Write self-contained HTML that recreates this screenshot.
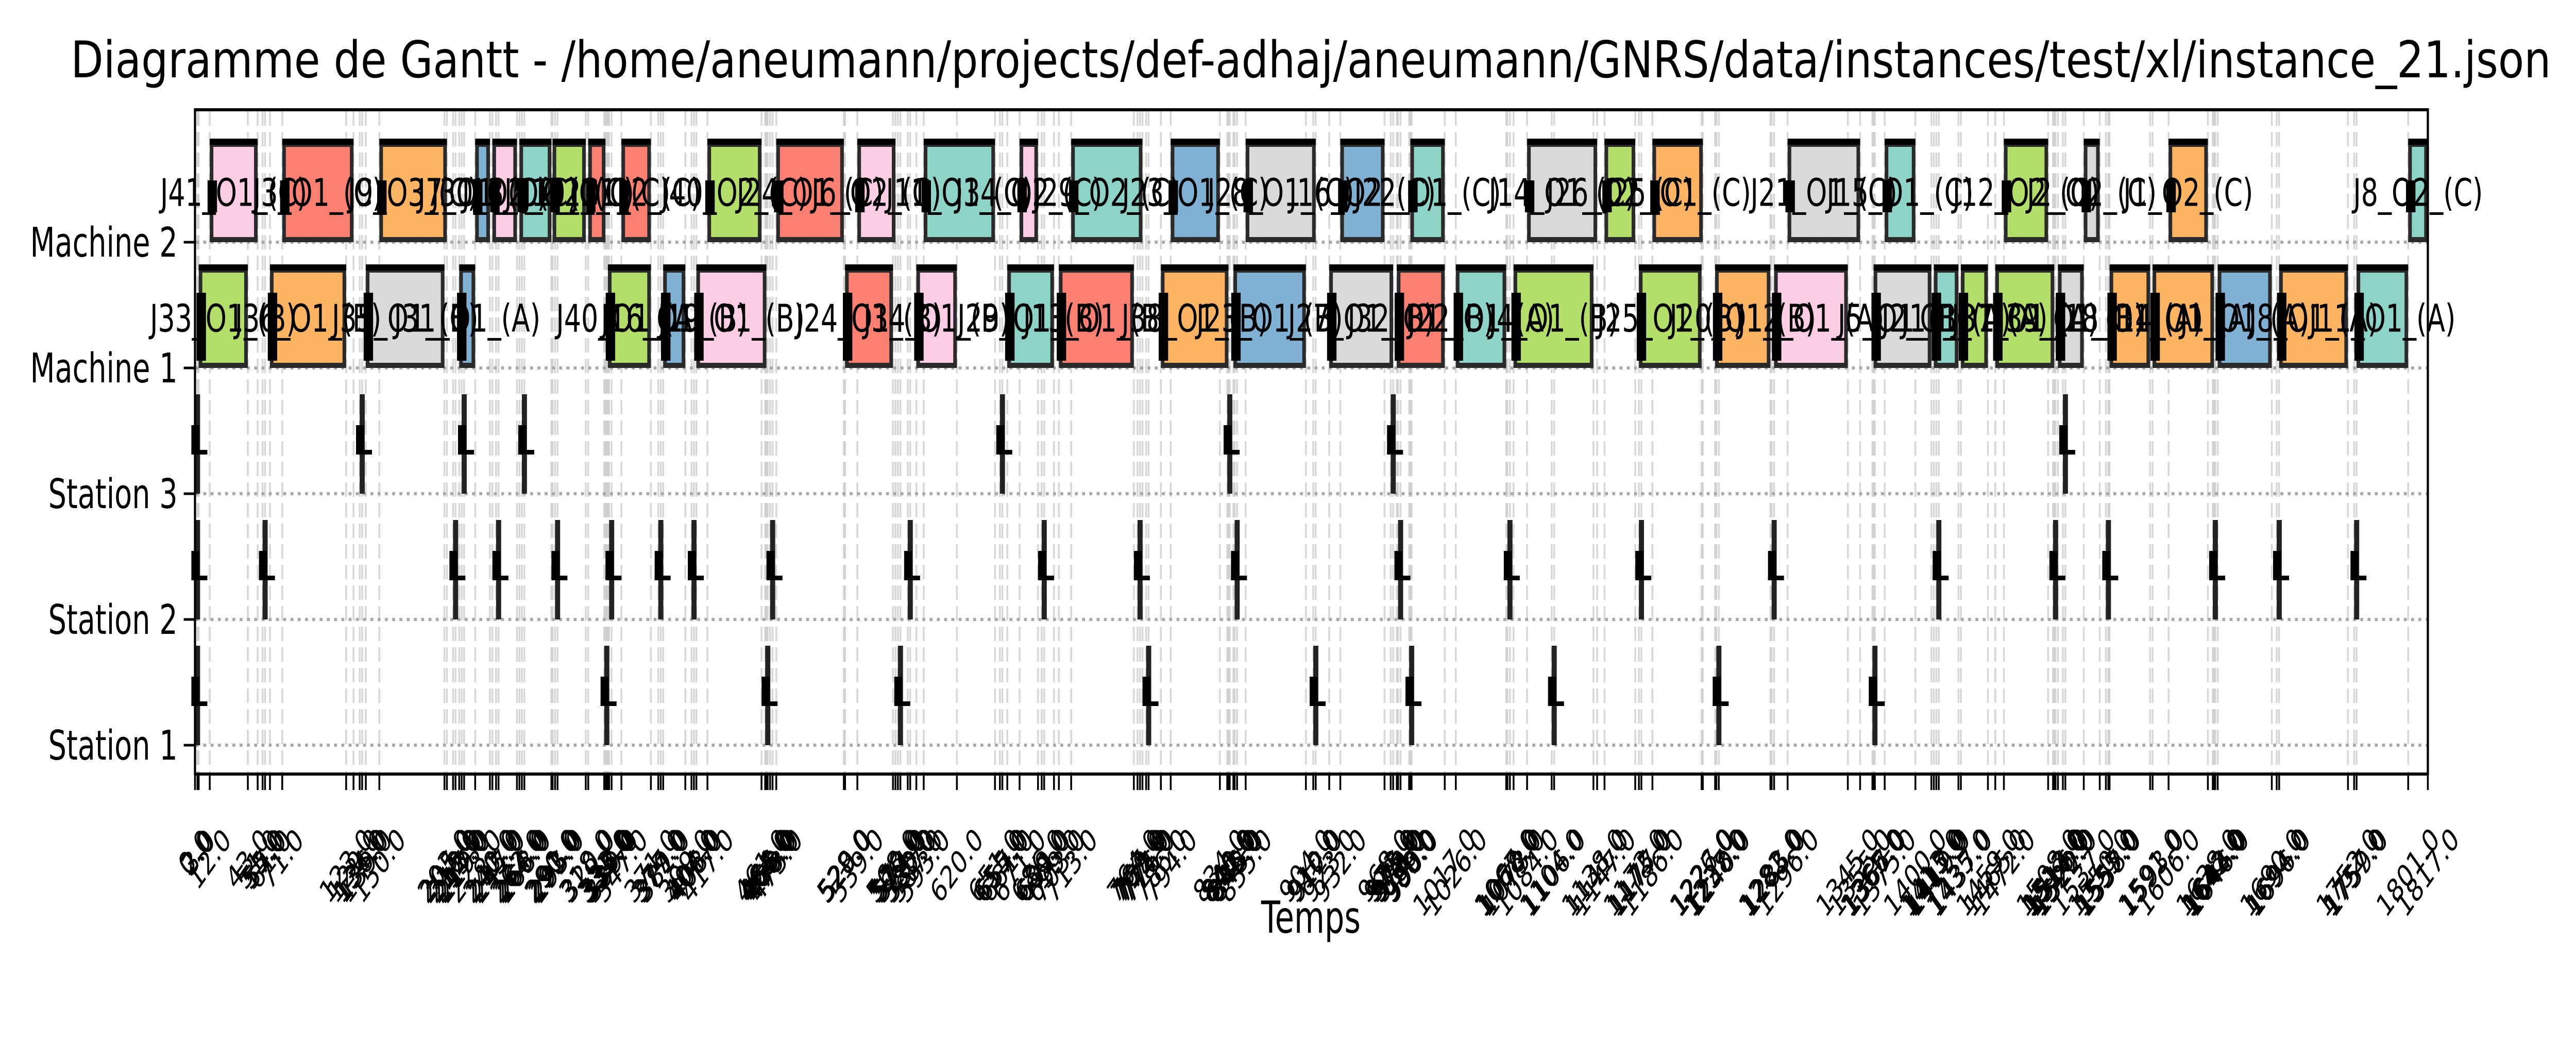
<!DOCTYPE html>
<html><head><meta charset="utf-8"><style>
html,body{margin:0;padding:0;background:#fff;width:100%;height:100%;overflow:hidden}
svg{display:block;width:100vw;height:100vh}
text{font-family:"DejaVu Sans","Liberation Sans",sans-serif}
</style></head><body>
<svg id="chart" viewBox="0 0 7094 2020" preserveAspectRatio="none" xmlns="http://www.w3.org/2000/svg">
<rect x="0" y="0" width="7094" height="2020" fill="#fff"/>
<text x="3610" y="150" font-size="98" text-anchor="middle" textLength="6830" lengthAdjust="spacingAndGlyphs">Diagramme de Gantt - /home/aneumann/projects/def-adhaj/aneumann/GNRS/data/instances/test/xl/instance_21.json</text>
<g id="grid"></g>
<g id="rows"></g>
<g id="marks"></g>
<rect x="537" y="213" width="6149" height="1289" fill="none" stroke="#000" stroke-width="6"/>
<g id="yaxis"></g>
<g id="xaxis"></g>
<text x="3610" y="1810" font-size="86" text-anchor="middle">Temps</text>
</svg>
<script>
const rowNames = ["Machine 2","Machine 1","Station 3","Station 2","Station 1"];
const m2Start = [12,71,150,228,242,264,291,320,347,417,473,539,593,671,713,794,855,932,989,1084,1147,1186,1296,1375,1472,1537,1606,1801];
const m2End   = [51,129,205,240,262,290,318,334,371,461,528,570,651,686,771,834,912,968,1017,1141,1172,1227,1355,1400,1508,1550,1638,1817];
const m2Color = ["pink","red","orange","blue","pink","teal","green","red","red","green","red","pink","teal","pink","teal","blue","gray","blue","teal","gray","green","orange","gray","teal","green","gray","orange","teal"];
const m2Label = ["J41_O1_(C)","J3_O1_(C)","J9_O3_(C)","J7_O1_(C)","J30_O2_(C)","J13_O2_(C)","J5_O2_(C)","J10_O1_(C)","J1_O2_(C)","J40_O2_(C)","J24_O1_(C)","J6_O2_(C)","J11_O1_(C)","J34_O2_(C)","J29_O2_(C)","J23_O1_(C)","J28_O1_(C)","J16_O2_(C)","J22_O1_(C)","J14_O1_(C)","J26_O2_(C)","J25_O1_(C)","J21_O1_(C)","J15_O1_(C)","J12_O2_(C)","J2_O2_(C)","J1_O2_(C)","J8_O2_(C)"];
const m1Start = [3,61,139,215,336,381,408,529,587,661,703,786,845,923,978,1026,1073,1175,1237,1285,1366,1415,1437,1465,1516,1558,1593,1646,1696,1759];
const m1End   = [43,123,203,228,371,399,465,568,620,699,764,841,904,975,1017,1067,1138,1226,1282,1345,1413,1435,1459,1513,1537,1591,1643,1690,1752,1801];
const m1Color = ["green","orange","gray","blue","green","blue","pink","red","pink","teal","red","orange","blue","gray","red","teal","green","green","orange","pink","gray","teal","green","green","gray","orange","orange","blue","orange","teal"];
const m1Label = ["J33_O1_(B)","J36_O1_(B)","J35_O1_(B)","J31_O1_(A)","J40_O1_(A)","J16_O1_(B)","J19_O1_(B)","J24_O1_(B)","J34_O1_(B)","J29_O1_(B)","J13_O1_(B)","J38_O1_(B)","J23_O1_(B)","J27_O1_(B)","J32_O1_(B)","J22_O1_(A)","J4_O1_(B)","J25_O1_(B)","J20_O1_(B)","J12_O1_(A)","J5_O1_(B)","J2_O1_(A)","J17_O1_(A)","J37_O1_(A)","J39_O1_(B)","J18_O1_(A)","J14_O1_(A)","J1_O1_(A)","J8_O1_(A)","J11_O1_(A)"];
const s3Times = [0,134,217,266,655,840,973,1520];
const s2Times = [0,55,210,245,293,337,377,404,468,580,689,767,846,979,1068,1175,1283,1417,1512,1555,1642,1694,1757];
const s1Times = [0,333,464,572,774,910,988,1104,1238,1365];
const stationDur = 2;

const palette = {pink:"#fccde5",red:"#fb8072",orange:"#fdb462",blue:"#80b1d3",teal:"#8dd3c7",green:"#b3de69",gray:"#d9d9d9"};
const NS = "http://www.w3.org/2000/svg";
const X0 = 537, X1 = 6686, T0 = 0, T1 = 1817;
const xScale = t => X0 + (t - T0) * (X1 - X0) / (T1 - T0);
const rowY = i => 470 + i * 244;
const BAR_H = 195;
function mk(tag, attrs, parent){const e=document.createElementNS(NS,tag);for(const k in attrs)e.setAttribute(k,attrs[k]);parent.appendChild(e);return e;}
const grid=document.getElementById('grid'), rows=document.getElementById('rows'), marks=document.getElementById('marks'), yaxis=document.getElementById('yaxis'), xaxis=document.getElementById('xaxis');

let tickSet = new Set();
m2Start.forEach(v=>tickSet.add(v)); m2End.forEach(v=>tickSet.add(v));
m1Start.forEach(v=>tickSet.add(v)); m1End.forEach(v=>tickSet.add(v));
[s3Times,s2Times,s1Times].forEach(a=>a.forEach(v=>{tickSet.add(v);tickSet.add(v+stationDur);}));
const ticks = Array.from(tickSet).sort((a,b)=>a-b);

ticks.forEach(t=>{
  const x=xScale(t);
  const g=mk('line',{x1:x,x2:x,y1:216,y2:1499,stroke:'#bdbdbd','stroke-opacity':0.6,'stroke-width':5,'stroke-dasharray':'28 12'},grid);
  
  
  const tk=mk('line',{x1:x,x2:x,y1:1502,y2:1533,stroke:'#000','stroke-width':5},xaxis);
  
  
  const lab=mk('text',{'font-size':61,'text-anchor':'middle','dominant-baseline':'central'},xaxis);
  lab.textContent=t.toFixed(1);
  
  
  const w=lab.textContent.length*0.6*61;
  const h=(w+61)*0.707;
  const cy=1594+h/2;
  lab.setAttribute('x',x); lab.setAttribute('y',cy);
  lab.setAttribute('transform','rotate(-45 '+x+' '+cy+')');
});

rowNames.forEach((n,i)=>{
  const y=rowY(i);
  const l=mk('line',{x1:540,x2:6683,y1:y,y2:y,stroke:'#a8a8a8','stroke-width':6,'stroke-dasharray':'8 12'},rows);
  
  
  const tk=mk('line',{x1:506,x2:537,y1:y,y2:y,stroke:'#000','stroke-width':5},yaxis);
  
  
  const t=mk('text',{x:489,y:y+28,'font-size':79,'text-anchor':'end'},yaxis);
  t.textContent=n;
  
  
});

function drawBars(starts,ends,colors,labels,row,name){
  const yb=rowY(row), yt=yb-BAR_H;
  starts.forEach((s,i)=>{
    const x=xScale(s), w=xScale(ends[i])-x;
    const r=mk('rect',{x:x+5,y:yt+5,width:Math.max(w-10,1),height:BAR_H-10,fill:palette[colors[i]],stroke:'#2a2a2a','stroke-width':10},marks);
    
    
    const cap=mk('rect',{x:x,y:yt-6,width:w,height:12,fill:'#000'},marks);
    
    
    const tick=mk('rect',{x:x-6,y:row===0?yb-120:yb-146,width:26,height:row===0?62:132,fill:'#000'},marks);
    
    
  });
  starts.forEach((s,i)=>{
    const cx=(xScale(s)+xScale(ends[i]))/2;
    const t=mk('text',{x:cx,y:yb-BAR_H/2+27,'font-size':74,'text-anchor':'middle'},marks);
    t.textContent=labels[i];
    
    
  });
}
drawBars(m2Start,m2End,m2Color,m2Label,0,'machine-2');
drawBars(m1Start,m1End,m1Color,m1Label,1,'machine-1');

function drawStation(times,row,name){
  const yb=rowY(row), yt=yb-BAR_H;
  times.forEach(s=>{
    const x=xScale(s);
    const w=Math.max(xScale(s+stationDur)-x,8);
    const r=mk('rect',{x:x,y:yt+2,width:w+6,height:BAR_H-2,fill:'#222'},marks);
    
    
    const k=mk('rect',{x:x-10,y:yb-133,width:22,height:56,fill:'#000'},marks);
    
    
    const f=mk('rect',{x:x-10,y:yb-85,width:44,height:9,fill:'#000'},marks);
    
    
  });
}
drawStation(s3Times,2,'station-3');
drawStation(s2Times,3,'station-2');
drawStation(s1Times,4,'station-1');
</script>
</body></html>
